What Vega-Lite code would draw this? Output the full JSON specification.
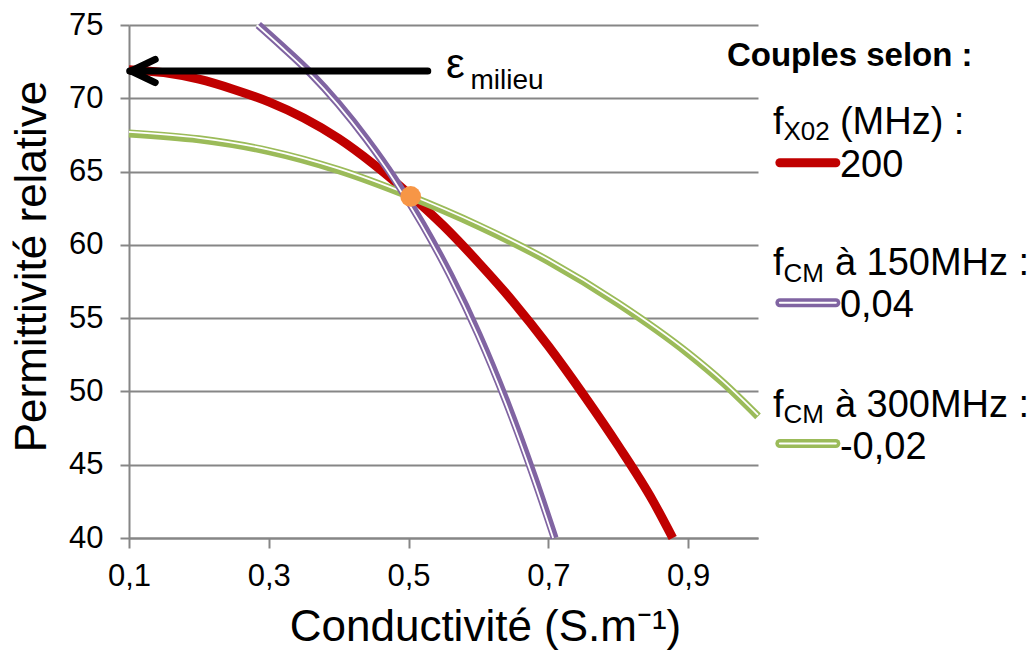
{
  "$schema": "https://vega.github.io/schema/vega-lite/v6.json",
  "width": 629,
  "height": 513,
  "autosize": {"type": "none"},
  "padding": {"left": 129, "top": 25, "right": 276, "bottom": 113},
  "background": "white",
  "config": {"view": {"stroke": null}, "font": "Liberation Sans"},
  "datasets": {
    "curves": [
      {"series": "200", "sigma": 0.1, "eps": 71.95},
      {"series": "200", "sigma": 0.15, "eps": 71.75},
      {"series": "200", "sigma": 0.2, "eps": 71.3},
      {"series": "200", "sigma": 0.25, "eps": 70.6},
      {"series": "200", "sigma": 0.3, "eps": 69.75},
      {"series": "200", "sigma": 0.35, "eps": 68.65},
      {"series": "200", "sigma": 0.4, "eps": 67.25},
      {"series": "200", "sigma": 0.45, "eps": 65.5},
      {"series": "200", "sigma": 0.5, "eps": 63.5},
      {"series": "200", "sigma": 0.55, "eps": 61.3},
      {"series": "200", "sigma": 0.6, "eps": 58.8},
      {"series": "200", "sigma": 0.65, "eps": 56.1},
      {"series": "200", "sigma": 0.7, "eps": 53.1},
      {"series": "200", "sigma": 0.75, "eps": 49.8},
      {"series": "200", "sigma": 0.8, "eps": 46.3},
      {"series": "200", "sigma": 0.85, "eps": 42.5},
      {"series": "200", "sigma": 0.878, "eps": 40.0},
      {"series": "0,04", "sigma": 0.285, "eps": 75.0},
      {"series": "0,04", "sigma": 0.32, "eps": 73.5},
      {"series": "0,04", "sigma": 0.36, "eps": 71.7},
      {"series": "0,04", "sigma": 0.4, "eps": 69.6},
      {"series": "0,04", "sigma": 0.44, "eps": 67.2},
      {"series": "0,04", "sigma": 0.48, "eps": 64.5},
      {"series": "0,04", "sigma": 0.52, "eps": 61.4},
      {"series": "0,04", "sigma": 0.56, "eps": 57.9},
      {"series": "0,04", "sigma": 0.6, "eps": 53.9},
      {"series": "0,04", "sigma": 0.64, "eps": 49.3},
      {"series": "0,04", "sigma": 0.68, "eps": 44.1},
      {"series": "0,04", "sigma": 0.709, "eps": 40.0},
      {"series": "-0,02", "sigma": 0.1, "eps": 67.6},
      {"series": "-0,02", "sigma": 0.2, "eps": 67.2},
      {"series": "-0,02", "sigma": 0.3, "eps": 66.4},
      {"series": "-0,02", "sigma": 0.4, "eps": 65.1},
      {"series": "-0,02", "sigma": 0.5, "eps": 63.35},
      {"series": "-0,02", "sigma": 0.6, "eps": 61.3},
      {"series": "-0,02", "sigma": 0.7, "eps": 58.9},
      {"series": "-0,02", "sigma": 0.8, "eps": 56.0},
      {"series": "-0,02", "sigma": 0.9, "eps": 52.6},
      {"series": "-0,02", "sigma": 0.95, "eps": 50.6},
      {"series": "-0,02", "sigma": 1.0, "eps": 48.3}
    ],
    "legendSym": [
      {"series": "200", "sigma": 1.0313, "sigma2": 1.1114, "eps": 65.6},
      {"series": "0,04", "sigma": 1.0313, "sigma2": 1.1114, "eps": 56.05},
      {"series": "-0,02", "sigma": 1.0313, "sigma2": 1.1114, "eps": 46.45}
    ],
    "mainText": [
      {"sigma": 1.0213, "eps": 67.56, "text": "f"},
      {"sigma": 1.1172, "eps": 67.56, "text": "(MHz) :"},
      {"sigma": 1.1172, "eps": 64.63, "text": "200"},
      {"sigma": 1.0213, "eps": 57.91, "text": "f"},
      {"sigma": 1.11, "eps": 57.91, "text": "à 150MHz :"},
      {"sigma": 1.1172, "eps": 55.08, "text": "0,04"},
      {"sigma": 1.0213, "eps": 48.26, "text": "f"},
      {"sigma": 1.11, "eps": 48.26, "text": "à 300MHz :"},
      {"sigma": 1.1172, "eps": 45.39, "text": "-0,02"}
    ],
    "epsText": [
      {"sigma": 0.5535, "eps": 71.4, "text": "ε"}
    ],
    "subText": [
      {"sigma": 1.0365, "eps": 67.15, "text": "X02"},
      {"sigma": 1.0365, "eps": 57.47, "text": "CM"},
      {"sigma": 1.0365, "eps": 47.85, "text": "CM"}
    ],
    "milieuText": [
      {"sigma": 0.5885, "eps": 70.63, "text": "milieu"}
    ],
    "titleText": [
      {"sigma": 0.9555, "eps": 72.17, "text": "Couples selon :"}
    ],
    "arrow": [
      {"sigma": 0.101, "eps": 71.86, "sigma2": 0.5275, "eps2": 71.86},
      {"sigma": 0.103, "eps": 71.86, "sigma2": 0.1375, "eps2": 72.65},
      {"sigma": 0.103, "eps": 71.86, "sigma2": 0.1375, "eps2": 71.07}
    ],
    "point": [
      {"sigma": 0.503, "eps": 63.3}
    ]
  },
  "encoding": {
    "x": {
      "field": "sigma",
      "type": "quantitative",
      "scale": {"domain": [0.1, 1.0], "nice": false, "zero": false},
      "axis": {
        "values": [0.1, 0.3, 0.5, 0.7, 0.9],
        "labelExpr": "replace(format(datum.value, '.1f'), '.', ',')",
        "labelFont": "Liberation Sans",
        "labelFontSize": 31,
        "labelColor": "#000000",
        "labelPadding": 13,
        "labelFlush": false,
        "labelOverlap": false,
        "tickSize": 10,
        "tickColor": "#868686",
        "tickWidth": 2,
        "domainColor": "#868686",
        "domainWidth": 2,
        "grid": false,
        "title": "Conductivité (S.m⁻¹)",
        "titleFont": "Liberation Sans",
        "titleFontSize": 44,
        "titleFontWeight": "normal",
        "titleColor": "#000000",
        "titleX": 356,
        "titleY": 89,
        "titleBaseline": "middle",
        "titleAlign": "center"
      }
    },
    "y": {
      "field": "eps",
      "type": "quantitative",
      "scale": {"domain": [40, 75], "nice": false, "zero": false},
      "axis": {
        "values": [40, 45, 50, 55, 60, 65, 70, 75],
        "labelFont": "Liberation Sans",
        "labelFontSize": 31,
        "labelColor": "#000000",
        "labelPadding": 17,
        "labelFlush": false,
        "labelOverlap": false,
        "tickSize": 9,
        "tickColor": "#868686",
        "tickWidth": 2,
        "domainColor": "#868686",
        "domainWidth": 2,
        "grid": true,
        "gridColor": "#868686",
        "gridWidth": 2,
        "title": "Permittivité relative",
        "titleFont": "Liberation Sans",
        "titleFontSize": 44,
        "titleFontWeight": "normal",
        "titleColor": "#000000",
        "titleX": -97,
        "titleY": 241,
        "titleAngle": -90,
        "titleBaseline": "middle",
        "titleAlign": "center"
      }
    }
  },
  "layer": [
    {
      "data": {"name": "curves"},
      "transform": [{"filter": "datum.series == '200'"}],
      "mark": {"type": "line", "color": "#C00000", "strokeWidth": 9, "interpolate": "monotone", "strokeJoin": "round"}
    },
    {
      "data": {"name": "curves"},
      "transform": [{"filter": "datum.series == '-0,02'"}],
      "mark": {"type": "line", "color": "#9BBB59", "strokeWidth": 8, "interpolate": "monotone", "strokeJoin": "round"}
    },
    {
      "data": {"name": "curves"},
      "transform": [{"filter": "datum.series == '-0,02'"}],
      "mark": {"type": "line", "color": "#FFFFFF", "strokeWidth": 1.8, "interpolate": "monotone", "yOffset": -1.5}
    },
    {
      "data": {"name": "curves"},
      "transform": [{"filter": "datum.series == '0,04'"}],
      "mark": {"type": "line", "color": "#8064A2", "strokeWidth": 8, "interpolate": "monotone", "strokeJoin": "round"}
    },
    {
      "data": {"name": "curves"},
      "transform": [{"filter": "datum.series == '0,04'"}],
      "mark": {"type": "line", "color": "#FFFFFF", "strokeWidth": 1.8, "interpolate": "monotone", "xOffset": -1.5}
    },
    {
      "data": {"name": "point"},
      "mark": {"type": "point", "filled": true, "color": "#F79646", "opacity": 1, "size": 430}
    },
    {
      "data": {"name": "arrow"},
      "mark": {"type": "rule", "color": "#000000", "strokeWidth": 7, "strokeCap": "round"},
      "encoding": {"x2": {"field": "sigma2"}, "y2": {"field": "eps2"}}
    },
    {
      "data": {"name": "legendSym"},
      "mark": {"type": "rule", "strokeWidth": 9, "strokeCap": "round"},
      "encoding": {
        "x2": {"field": "sigma2"},
        "color": {
          "field": "series",
          "type": "nominal",
          "scale": {"domain": ["200", "0,04", "-0,02"], "range": ["#C00000", "#8064A2", "#9BBB59"]},
          "legend": null
        }
      }
    },
    {
      "data": {"name": "legendSym"},
      "transform": [{"filter": "datum.series != '200'"}],
      "mark": {"type": "rule", "strokeWidth": 2, "strokeCap": "round", "color": "#FFFFFF"},
      "encoding": {"x2": {"field": "sigma2"}}
    },
    {
      "data": {"name": "mainText"},
      "mark": {"type": "text", "font": "Liberation Sans", "fontSize": 38, "align": "left", "baseline": "alphabetic", "color": "#000000"},
      "encoding": {"text": {"field": "text"}}
    },
    {
      "data": {"name": "epsText"},
      "mark": {"type": "text", "font": "Liberation Sans", "fontSize": 42, "align": "left", "baseline": "alphabetic", "color": "#000000"},
      "encoding": {"text": {"field": "text"}}
    },
    {
      "data": {"name": "subText"},
      "mark": {"type": "text", "font": "Liberation Sans", "fontSize": 26, "align": "left", "baseline": "alphabetic", "color": "#000000"},
      "encoding": {"text": {"field": "text"}}
    },
    {
      "data": {"name": "milieuText"},
      "mark": {"type": "text", "font": "Liberation Sans", "fontSize": 28, "align": "left", "baseline": "alphabetic", "color": "#000000"},
      "encoding": {"text": {"field": "text"}}
    },
    {
      "data": {"name": "titleText"},
      "mark": {"type": "text", "font": "Liberation Sans", "fontSize": 33, "fontWeight": "bold", "align": "left", "baseline": "alphabetic", "color": "#000000"},
      "encoding": {"text": {"field": "text"}}
    }
  ]
}
